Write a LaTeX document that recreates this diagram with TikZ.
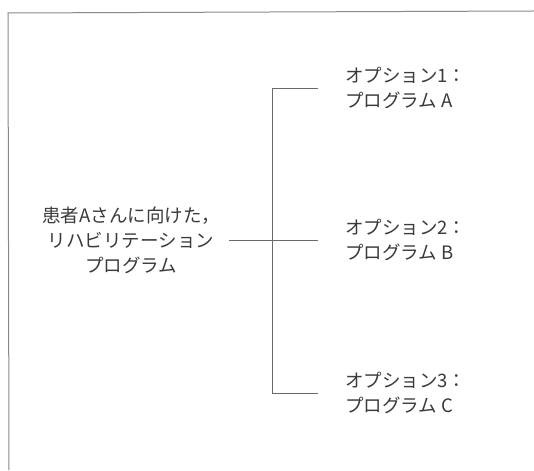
\documentclass[tikz,border=0pt]{standalone}
\usepackage{fontspec}
\setmainfont{Noto Sans CJK JP}
\definecolor{txt}{HTML}{3A3A3A}
\definecolor{ln}{HTML}{6A6A6A}
\begin{document}
\begin{tikzpicture}[x=1pt,y=-1pt,
  lbl/.style={inner sep=0pt,text=txt,font=\fontsize{18.5}{25}\selectfont},
  conn/.style={draw=ln,line width=0.9pt},
  frame/.style={draw=ln!80,line width=1pt}]
\useasboundingbox (0,0) rectangle (534,470);
\draw[frame] (534,11) -- (8,13) -- (9,470);
\node[lbl,align=center] (root) at (131,240) {患者Aさんに向けた，\\リハビリテーション\\プログラム};
\node[lbl,align=left,anchor=west] (o1) at (345,88) {オプション1：\\プログラム A};
\node[lbl,align=left,anchor=west] (o2) at (345,240) {オプション2：\\プログラム B};
\node[lbl,align=left,anchor=west] (o3) at (345,393) {オプション3：\\プログラム C};
\coordinate (j) at (272,240);
\coordinate (r1) at (318,88);
\coordinate (r2) at (318,240);
\coordinate (r3) at (318,393);
\coordinate (s) at (229,240);
\draw[conn] (s) -- (r2);
\draw[conn] (r1) -- (r1 -| j) -- (r3 -| j) -- (r3);
\end{tikzpicture}
\end{document}
